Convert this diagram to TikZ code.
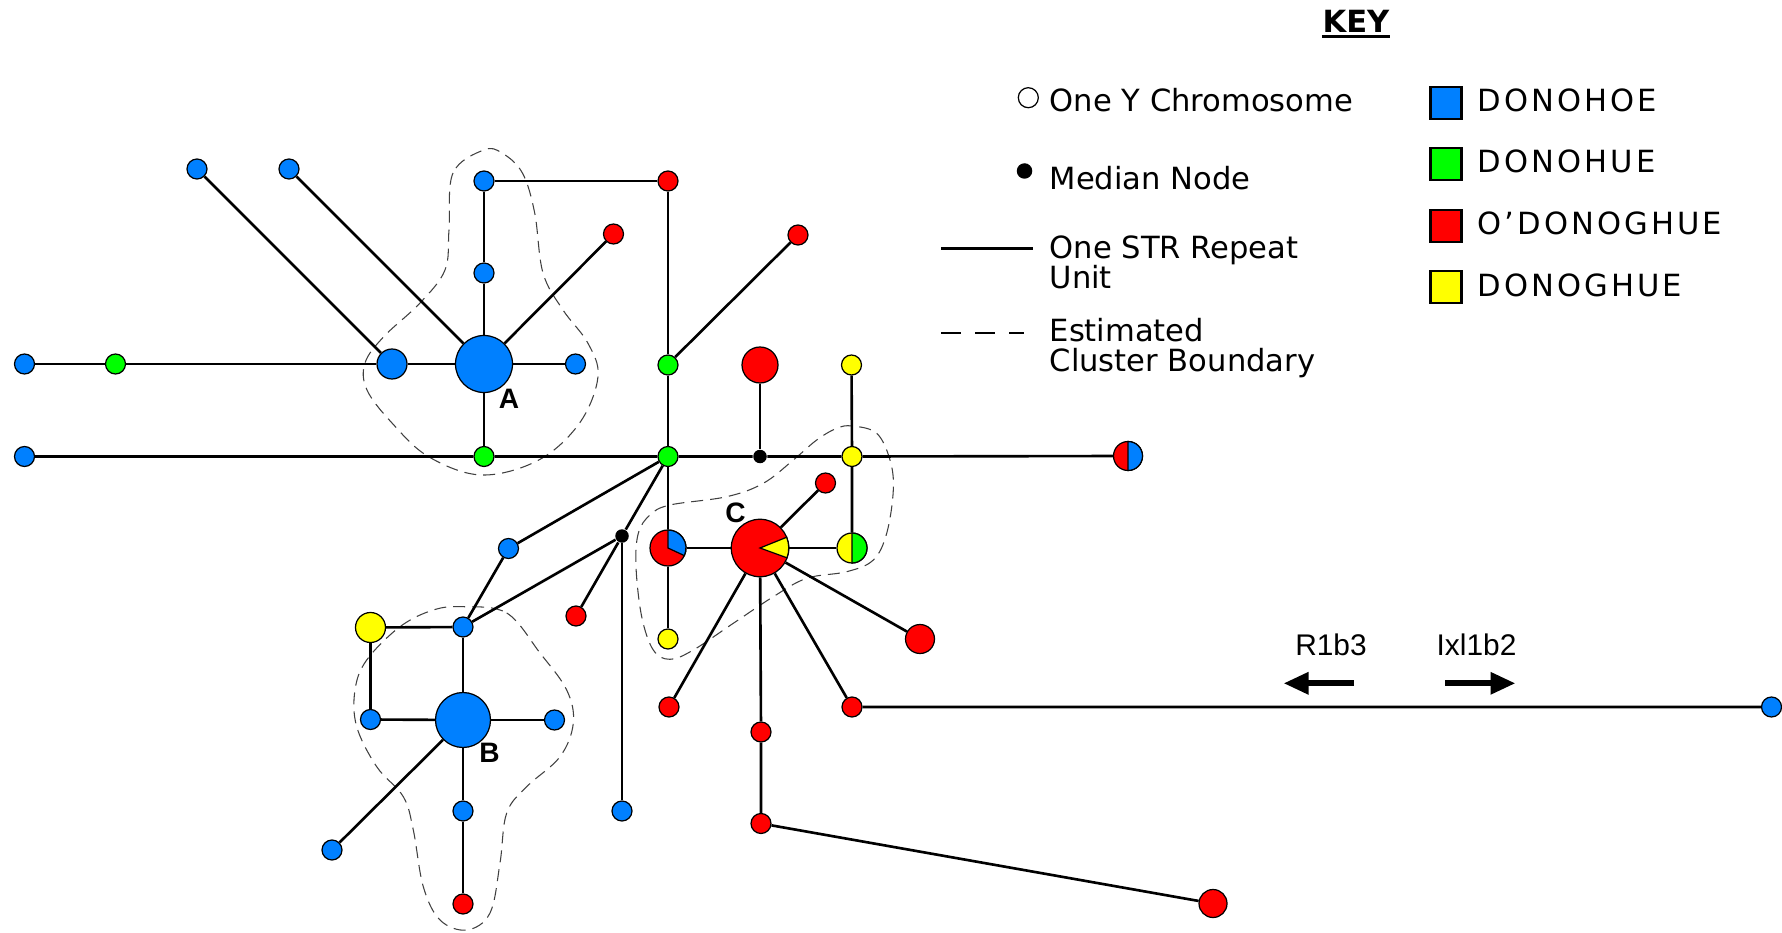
\documentclass[tikz,border=0pt]{standalone}
\usepackage{fontspec}
\setmainfont{DejaVu Sans}
\newfontfamily\arialfont{Liberation Sans}
\newfontfamily\spacedfont[LetterSpace=10]{DejaVu Sans}
\usetikzlibrary{arrows.meta}
\definecolor{dhoe}{RGB}{0,128,255}
\definecolor{dhue}{RGB}{0,255,0}
\definecolor{odghue}{RGB}{255,0,0}
\definecolor{dghue}{RGB}{255,255,0}
\newcommand{\keysize}{\fontsize{8.7}{8.54}\selectfont}

\begin{document}
\begin{tikzpicture}[
    hap/.style={circle, draw, line width=0.35pt, inner sep=0pt, minimum size=#1},
    hap/.default=0.2cm,
    blu/.style={hap=#1, fill=dhoe}, blu/.default=0.2cm,
    grn/.style={hap=#1, fill=dhue}, grn/.default=0.2cm,
    rd/.style={hap=#1, fill=odghue}, rd/.default=0.2cm,
    yel/.style={hap=#1, fill=dghue}, yel/.default=0.2cm,
    median/.style={circle, fill=black, inner sep=0pt, minimum size=0.135cm},
    link/.style={line width=0.75pt},
    wedge/.style={draw=black, line width=0.35pt},
    boundary/.style={black!75, line width=0.3pt, dash pattern=on 0.12cm off 0.07cm},
    lbl/.style={font=\arialfont\bfseries\fontsize{8}{8}\selectfont, inner sep=0pt},
    keytext/.style={font=\keysize, anchor=base west, inner sep=0pt, align=left},
    keyname/.style={font=\spacedfont\keysize, anchor=base west, inner sep=0pt},
    keybox/.style={draw, line width=0.6pt, minimum width=0.31cm, minimum height=0.32cm, inner sep=0pt},
    marker/.style={line width=1.7pt, -{Triangle[length=0.25cm, width=0.21cm]}},
]
\useasboundingbox (0,0) rectangle (17.82,-9.33);

% Cluster boundaries
\draw[boundary] plot[smooth cycle, tension=0.6] coordinates {
    (4.837,-1.50) (4.53,-1.73) (4.49,-2.30) (4.45,-2.70) (4.20,-3.03) (3.837,-3.367)
    (3.65,-3.63) (3.67,-3.90) (3.92,-4.23) (4.286,-4.567) (4.816,-4.75) (5.388,-4.60)
    (5.796,-4.23) (5.98,-3.767) (5.878,-3.43) (5.63,-3.10) (5.43,-2.73) (5.347,-2.13)
    (5.224,-1.73) (5.02,-1.53)};
\draw[boundary] plot[smooth cycle, tension=0.6] coordinates {
    (4.633,-6.067) (5.067,-6.13) (5.40,-6.53) (5.667,-6.90) (5.733,-7.23) (5.60,-7.567)
    (5.267,-7.867) (5.067,-8.13) (5.00,-8.63) (4.90,-9.13) (4.667,-9.30) (4.40,-9.20)
    (4.233,-8.867) (4.133,-8.30) (4.033,-7.967) (3.767,-7.667) (3.567,-7.267) (3.55,-6.90)
    (3.667,-6.60) (4.00,-6.267) (4.333,-6.10)};
\draw[boundary] plot[smooth cycle, tension=0.6] coordinates {
    (8.523,-4.26) (8.767,-4.333) (8.90,-4.60) (8.933,-4.90) (8.867,-5.333) (8.733,-5.60)
    (8.467,-5.717) (8.067,-5.783) (7.733,-5.967) (7.333,-6.233) (6.933,-6.50) (6.70,-6.593)
    (6.533,-6.50) (6.417,-6.167) (6.36,-5.667) (6.383,-5.333) (6.50,-5.15) (6.70,-5.05)
    (7.267,-4.967) (7.633,-4.833) (7.933,-4.60) (8.167,-4.40) (8.367,-4.283)};

% Cluster A
\node[blu] (a1) at (0.245,-3.64) {};
\node[grn] (a2) at (1.155,-3.64) {};
\node[blu=0.30cm] (a3) at (3.92,-3.64) {};
\node[blu=0.57cm] (A) at (4.84,-3.64) {};
\node[blu] (a4) at (5.755,-3.64) {};
\node[blu] (a5) at (1.97,-1.69) {};
\node[blu] (a6) at (2.89,-1.69) {};
\node[blu] (a7) at (4.84,-1.81) {};
\node[blu] (a8) at (4.84,-2.73) {};
\node[rd] (a9) at (6.135,-2.34) {};
\node[grn] (a10) at (4.84,-4.565) {};
\node[blu] (b0) at (0.245,-4.565) {};
\node[lbl] (labA) at (5.09,-3.99) {A};

% Central part
\node[rd] (r1) at (6.68,-1.81) {};
\node[rd] (r2) at (7.98,-2.35) {};
\node[grn] (g1) at (6.68,-3.65) {};
\node[grn] (hub) at (6.68,-4.565) {};
\node[median] (m1) at (7.60,-4.565) {};
\node[rd=0.36cm] (r3) at (7.60,-3.65) {};
\node[yel] (y1) at (8.515,-3.65) {};
\node[yel] (y2) at (8.52,-4.565) {};
\node[rd=0.29cm] (rb) at (11.28,-4.56) {};

% Cluster C
\node[rd=0.36cm] (pie) at (6.68,-5.48) {};
\node[rd=0.575cm] (C) at (7.60,-5.48) {};
\node[yel=0.30cm] (yg) at (8.52,-5.48) {};
\node[rd] (r4) at (8.255,-4.83) {};
\node[yel] (y3) at (6.68,-6.39) {};
\node[rd=0.29cm] (r5) at (9.20,-6.39) {};
\node[rd] (r6) at (6.69,-7.07) {};
\node[rd] (r7) at (7.61,-7.32) {};
\node[rd] (r8) at (8.52,-7.07) {};
\node[blu] (r8end) at (17.715,-7.07) {};
\node[rd] (r9) at (7.61,-8.235) {};
\node[rd=0.28cm] (r10) at (12.13,-9.035) {};
\node[lbl] (labC) at (7.355,-5.13) {C};

% Split nodes
\filldraw[wedge, fill=dhoe] (pie.center) -- ++(-25:0.18) arc[start angle=-25, end angle=90, radius=0.18] -- cycle;
\filldraw[wedge, fill=dghue] (C.center) -- ++(-20:0.2875) arc[start angle=-20, end angle=22, radius=0.2875] -- cycle;
\filldraw[wedge, fill=dhue] ([yshift=-0.15cm]yg.center) arc[start angle=-90, end angle=90, radius=0.15] -- cycle;
\filldraw[wedge, fill=dhoe] ([yshift=-0.145cm]rb.center) arc[start angle=-90, end angle=90, radius=0.145] -- cycle;

% Cluster B
\node[median] (m2) at (6.22,-5.36) {};
\node[blu] (c1) at (5.085,-5.485) {};
\node[rd] (c2) at (5.76,-6.16) {};
\node[blu] (c3) at (6.22,-8.11) {};
\node[yel=0.30cm] (y4) at (3.705,-6.275) {};
\node[blu] (c4) at (4.63,-6.27) {};
\node[blu] (c5) at (3.705,-7.195) {};
\node[blu=0.55cm] (B) at (4.63,-7.20) {};
\node[blu] (c6) at (5.545,-7.20) {};
\node[blu] (c7) at (3.32,-8.50) {};
\node[blu] (c8) at (4.63,-8.11) {};
\node[rd] (c9) at (4.63,-9.04) {};
\node[lbl] (labB) at (4.895,-7.53) {B};

% Links
\draw[link] (a1) -- (a2) -- (a3) -- (A) -- (a4);
\draw[link] (a5) -- (a3);
\draw[link] (a6) -- (A);
\draw[link] (a9) -- (A);
\draw[link] (a7) -- (a8) -- (A) -- (a10);
\draw[link] (a7) -- (r1) -- (g1) -- (hub) -- (pie) -- (y3);
\draw[link] (r2) -- (g1);
\draw[link] (b0) -- (a10) -- (hub) -- (m1) -- (y2) -- (rb);
\draw[link] (m1) -- (r3);
\draw[link] (y1) -- (y2) -- (yg);
\draw[link] (pie) -- (C) -- (yg);
\draw[link] (C) -- (r4);
\draw[link] (C) -- (r5);
\draw[link] (C) -- (r6);
\draw[link] (C) -- (r7) -- (r9) -- (r10);
\draw[link] (C) -- (r8) -- (r8end);
\draw[link] (hub) -- (c1) -- (c4);
\draw[link] (hub) -- (m2) -- (c2);
\draw[link] (m2) -- (c4);
\draw[link] (m2) -- (c3);
\draw[link] (y4) -- (c4);
\draw[link] (y4) -- (c5) -- (B);
\draw[link] (c4) -- (B) -- (c8) -- (c9);
\draw[link] (B) -- (c6);
\draw[link] (B) -- (c7);

% Haplogroup arrows
\node[font=\arialfont\fontsize{8.5}{8.5}\selectfont, anchor=base, inner sep=0pt] (hgL) at (13.31,-6.55) {R1b3};
\node[font=\arialfont\fontsize{8.5}{8.5}\selectfont, anchor=base, inner sep=0pt] (hgR) at (14.765,-6.55) {Ixl1b2};
\coordinate (hgLs) at (13.54,-6.833);
\coordinate (hgLe) at (12.835,-6.833);
\coordinate (hgRs) at (14.45,-6.833);
\coordinate (hgRe) at (15.155,-6.833);
\draw[marker] (hgLs) -- (hgLe);
\draw[marker] (hgRs) -- (hgRe);

% Key
\node[font=\bfseries\keysize, anchor=base, inner sep=0pt] (key) at (13.56,-0.33) {KEY};
\draw[line width=0.85pt] ([yshift=-0.04cm]key.base west) -- ([yshift=-0.04cm]key.base east);
\node[hap, fill=white] (kOne) at (10.283,-0.977) {};
\node[keytext] (tOne) at (10.49,-1.117) {One Y Chromosome};
\node[median, minimum size=0.155cm] (kMed) at (10.245,-1.71) {};
\node[keytext] (tMed) at (10.49,-1.893) {Median Node};
\coordinate (kStrA) at (9.41,-2.483);
\coordinate (kStrB) at (10.327,-2.483);
\draw[link] (kStrA) -- (kStrB);
\node[keytext] (tStr) at (10.49,-2.883) {One STR Repeat\\Unit};
\coordinate (kBndA) at (9.41,-3.333);
\coordinate (kBndB) at (10.24,-3.333);
\draw[line width=0.6pt, dash pattern=on 0.2cm off 0.14cm] (kBndA) -- (kBndB);
\node[keytext] (tBnd) at (10.49,-3.717) {Estimated\\Cluster Boundary};

\node[keybox, fill=dhoe] (sq1) at (14.46,-1.028) {};
\node[keybox, fill=dhue] (sq2) at (14.46,-1.643) {};
\node[keybox, fill=odghue] (sq3) at (14.46,-2.26) {};
\node[keybox, fill=dghue] (sq4) at (14.46,-2.873) {};
\node[keyname] (n1) at (14.77,-1.117) {DONOHOE};
\node[keyname] (n2) at (14.77,-1.727) {DONOHUE};
\node[keyname] (n3) at (14.77,-2.343) {O’DONOGHUE};
\node[keyname] (n4) at (14.77,-2.96) {DONOGHUE};
\end{tikzpicture}
\end{document}
